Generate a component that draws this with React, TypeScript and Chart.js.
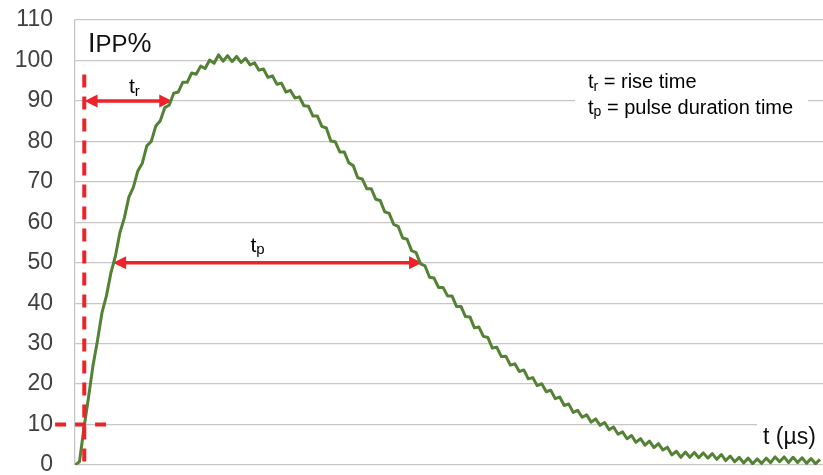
import React, { useEffect, useRef } from "react";
import { Chart, registerables } from "chart.js";

Chart.register(...registerables);

// time axis in µs
const timeUs = [
  0.0, 0.3, 0.6, 0.9, 1.2, 1.5, 1.8, 2.1, 2.4, 2.7, 3.0, 3.3, 3.6, 3.9, 4.2, 4.5, 4.8, 5.1, 5.4, 5.7,
  6.0, 6.3, 6.6, 6.9, 7.2, 7.5, 7.8, 8.1, 8.4, 8.7, 9.0, 9.3, 9.6, 9.9, 10.2, 10.5, 10.8, 11.1, 11.4, 11.7,
  12.0, 12.3, 12.6, 12.9, 13.2, 13.5, 13.8, 14.1, 14.4, 14.7, 15.0, 15.3, 15.6, 15.9, 16.2, 16.5, 16.8, 17.1, 17.4, 17.7,
  18.0, 18.3, 18.6, 18.9, 19.2, 19.5, 19.8, 20.1, 20.4, 20.7, 21.0, 21.3, 21.6, 21.9, 22.2, 22.5, 22.8, 23.1, 23.4, 23.7,
  24.0, 24.3, 24.6, 24.9, 25.2, 25.5, 25.8, 26.1, 26.4, 26.7, 27.0, 27.3, 27.6, 27.9, 28.2, 28.5, 28.8, 29.1, 29.4, 29.7,
  30.0, 30.3, 30.6, 30.9, 31.2, 31.5, 31.8, 32.1, 32.4, 32.7, 33.0, 33.3, 33.6, 33.9, 34.2, 34.5, 34.8, 35.1, 35.4, 35.7,
  36.0, 36.3, 36.6, 36.9, 37.2, 37.5, 37.8, 38.1, 38.4, 38.7, 39.0, 39.3, 39.6, 39.9, 40.2, 40.5, 40.8, 41.1, 41.4, 41.7,
  42.0, 42.3, 42.6, 42.9, 43.2, 43.5, 43.8, 44.1, 44.4, 44.7, 45.0, 45.3, 45.6, 45.9, 46.2, 46.5, 46.8, 47.1, 47.4, 47.7,
  48.0, 48.3, 48.6, 48.9, 49.2, 49.5, 49.8,
];

// IPP % (noisy measured pulse)
const ippPct = [
  0.0, 0.8, 9.2, 16.6, 24.5, 30.7, 37.6, 41.8, 47.5, 51.6, 57.4, 61.1, 66.2, 68.6, 72.7, 74.6, 78.9, 80.0, 83.8, 85.1,
  88.3, 89.0, 91.9, 92.2, 94.6, 94.6, 96.9, 96.6, 98.6, 98.0, 100.1, 99.3, 101.4, 99.8, 101.2, 99.7, 101.0, 99.5, 100.5, 98.9,
  99.4, 97.6, 97.9, 95.8, 96.2, 94.1, 94.4, 92.2, 92.6, 90.7, 91.0, 88.8, 88.7, 86.3, 86.3, 83.7, 83.3, 80.1, 79.9, 77.4,
  77.4, 74.7, 74.0, 71.0, 70.7, 68.3, 68.3, 65.7, 65.4, 62.6, 62.2, 59.5, 59.0, 56.1, 55.8, 53.0, 52.5, 49.7, 49.2, 46.4,
  46.2, 43.9, 43.9, 41.8, 41.8, 39.2, 39.2, 36.7, 36.6, 33.9, 34.1, 31.8, 31.5, 28.9, 29.1, 26.8, 26.9, 24.7, 25.0, 23.1,
  23.5, 21.3, 21.6, 19.6, 20.1, 18.1, 18.5, 16.4, 16.8, 14.7, 15.1, 13.0, 13.5, 11.8, 12.4, 10.6, 11.4, 9.8, 10.5, 8.7,
  9.4, 7.6, 8.2, 6.5, 7.3, 5.6, 6.5, 4.9, 5.9, 4.3, 5.3, 3.7, 4.4, 2.5, 3.4, 1.9, 3.2, 1.9, 3.1, 1.8,
  3.0, 1.7, 2.8, 1.4, 2.6, 1.1, 2.2, 0.8, 1.9, 0.5, 1.7, 0.3, 1.5, 0.4, 1.7, 0.6, 2.0, 0.8, 2.0, 0.6,
  1.9, 0.6, 1.8, 0.4, 1.6, 0.3, 1.4,
];

const yMin = 0;
const yMax = 110;
const yStep = 10;
const xMin = 0;
const xMax = 50;

// annotation values (data units)
const tenPercentLevel = 10;
const tenPercentSpanT = [-1.33, 2.35];
const riseStartT = 0.62;
const riseMarkerTop = 96.5;
const riseLevel = 90;
const riseArrowT = [0.64, 6.5];
const pulseLevel = 50;
const pulseArrowT = [2.55, 23.2];

const RED = "#EE2229";
const GREEN = "#548235";
const FONT = "'Liberation Sans', Arial, sans-serif";

function drawArrow(ctx: CanvasRenderingContext2D, x1: number, x2: number, yy: number) {
  const hl = 13;
  const hw = 6.5;
  ctx.save();
  ctx.strokeStyle = RED;
  ctx.fillStyle = RED;
  ctx.lineWidth = 3.5;
  ctx.beginPath();
  ctx.moveTo(x1 + hl - 1, yy);
  ctx.lineTo(x2 - hl + 1, yy);
  ctx.stroke();
  ctx.beginPath();
  ctx.moveTo(x1, yy);
  ctx.lineTo(x1 + hl, yy - hw);
  ctx.lineTo(x1 + hl, yy + hw);
  ctx.closePath();
  ctx.fill();
  ctx.beginPath();
  ctx.moveTo(x2, yy);
  ctx.lineTo(x2 - hl, yy - hw);
  ctx.lineTo(x2 - hl, yy + hw);
  ctx.closePath();
  ctx.fill();
  ctx.restore();
}

type Part = [string, number, number];
function drawParts(ctx: CanvasRenderingContext2D, x: number, baseline: number, parts: Part[], color: string, align: "left" | "center" = "left") {
  ctx.save();
  ctx.fillStyle = color;
  ctx.textBaseline = "alphabetic";
  ctx.textAlign = "left";
  let total = 0;
  for (const [t, s] of parts) {
    ctx.font = `${s}px ${FONT}`;
    total += ctx.measureText(t).width;
  }
  let cx = align === "center" ? x - total / 2 : x;
  for (const [t, s, dy] of parts) {
    ctx.font = `${s}px ${FONT}`;
    ctx.fillText(t, cx, baseline + dy);
    cx += ctx.measureText(t).width;
  }
  ctx.restore();
}

const annotations = {
  id: "annotations",
  beforeDatasetsDraw(chart: any) {
    const { ctx, scales } = chart;
    const x = scales.x;
    const y = scales.y;
    const area = chart.chartArea;
    ctx.save();
    // white backgrounds behind text labels
    ctx.fillStyle = "#ffffff";
    ctx.fillRect(area.right - 248, 68, 233, 52);
    ctx.fillRect(area.right - 66, 412, 66, 30);
    ctx.restore();

    drawArrow(ctx, x.getPixelForValue(riseArrowT[0]), x.getPixelForValue(riseArrowT[1]), y.getPixelForValue(riseLevel));
    drawArrow(ctx, x.getPixelForValue(pulseArrowT[0]), x.getPixelForValue(pulseArrowT[1]), y.getPixelForValue(pulseLevel));

    // labels
    drawParts(ctx, (x.getPixelForValue(riseArrowT[0]) + x.getPixelForValue(riseArrowT[1])) / 2 + 6, y.getPixelForValue(riseLevel) - 8,
      [["t", 21, 0], ["r", 15, 3]], "#000", "center");
    drawParts(ctx, (x.getPixelForValue(pulseArrowT[0]) + x.getPixelForValue(pulseArrowT[1])) / 2 - 10, y.getPixelForValue(pulseLevel) - 11,
      [["t", 21, 0], ["p", 15, 2]], "#000", "center");

    drawParts(ctx, area.right - 235, 88, [["t", 20, 0], ["r", 14, 3], [" = rise time", 20, 0]], "#000");
    drawParts(ctx, area.right - 235, 114, [["t", 20, 0], ["p", 14, 2], [" = pulse duration time", 20, 0]], "#000");

    drawParts(ctx, area.left + 13, 52, [["I", 27, 0], ["PP", 24, 0], ["%", 27, 0]], "#111");
    drawParts(ctx, area.right - 60, 444, [["t (µs)", 23, 0]], "#111");
  },
  afterDatasetsDraw(chart: any) {
    const { ctx, scales } = chart;
    const x = scales.x;
    const y = scales.y;
    ctx.save();
    ctx.strokeStyle = RED;
    ctx.lineWidth = 4;
    ctx.setLineDash([13, 9]);
    // vertical dashed marker at rise start
    const vx = x.getPixelForValue(riseStartT);
    ctx.beginPath();
    ctx.moveTo(vx, y.getPixelForValue(riseMarkerTop));
    ctx.lineTo(vx, y.getPixelForValue(0));
    ctx.stroke();
    // horizontal dashed marker at 10 %
    ctx.setLineDash([11, 9]);
    const hy = y.getPixelForValue(tenPercentLevel);
    ctx.beginPath();
    ctx.moveTo(x.getPixelForValue(tenPercentSpanT[0]), hy);
    ctx.lineTo(x.getPixelForValue(tenPercentSpanT[1]), hy);
    ctx.stroke();
    ctx.restore();
  },
};

export default function App() {
  const ref = useRef<HTMLCanvasElement | null>(null);
  useEffect(() => {
    if (!ref.current) return;
    const chart = new Chart(ref.current, {
      type: "line",
      data: {
        datasets: [
          {
            data: timeUs.map((t, i) => ({ x: t, y: ippPct[i] })),
            borderColor: GREEN,
            borderWidth: 3,
            pointRadius: 0,
            tension: 0,
            borderJoinStyle: "round",
            fill: false,
          },
        ],
      },
      options: {
        animation: false,
        responsive: true,
        maintainAspectRatio: false,
        layout: { padding: { left: 0, right: 0, top: 20, bottom: 10 } },
        plugins: { legend: { display: false }, tooltip: { enabled: false } },
        scales: {
          x: { type: "linear", min: xMin, max: xMax, display: false },
          y: {
            type: "linear",
            min: yMin,
            max: yMax,
            ticks: {
              stepSize: yStep,
              padding: 22,
              color: "#404040",
              font: { family: FONT, size: 23 },
            },
            grid: { color: "#c6c6c6", lineWidth: 1.3, drawTicks: false },
            border: { display: true, color: "#c6c6c6", width: 1.3 },
            afterFit: (s: any) => {
              s.width = 75;
              s.paddingTop = 0;
              s.paddingBottom = 0;
            },
          },
        },
      },
      plugins: [annotations],
    } as any);
    return () => chart.destroy();
  }, []);
  return (
    <div style={{ position: "absolute", left: 0, top: 0, width: 823, height: 475, background: "#fff" }}>
      <canvas ref={ref} />
    </div>
  );
}
